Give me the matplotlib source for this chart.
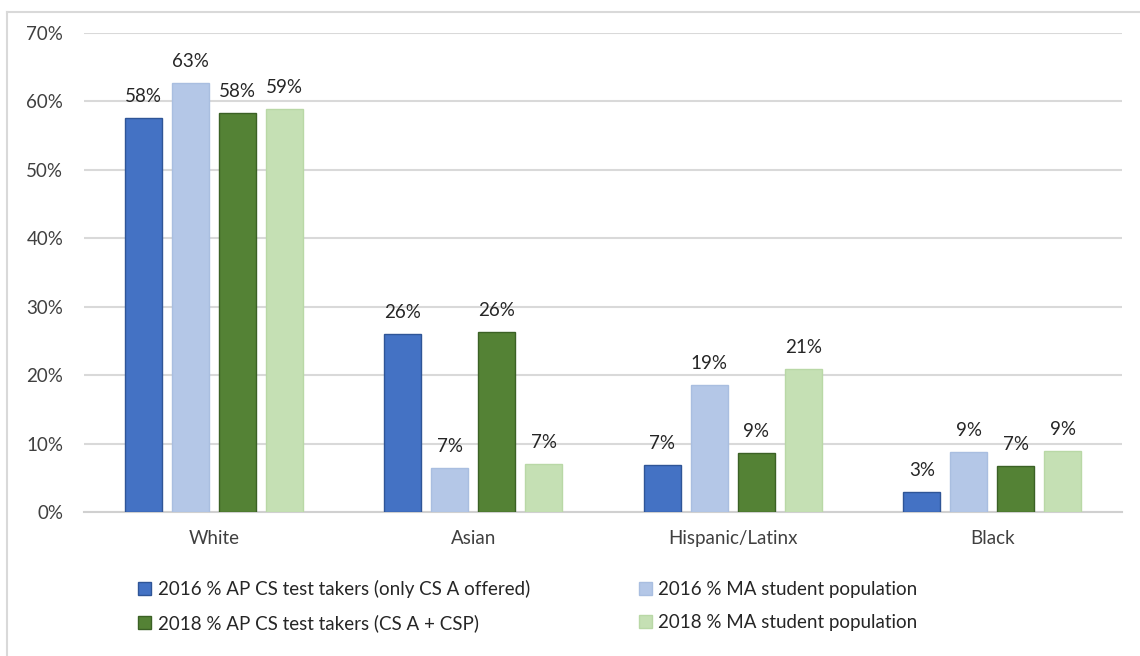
import numpy as np
import matplotlib
matplotlib.use("Agg")
import matplotlib.pyplot as plt
from matplotlib.lines import Line2D
from matplotlib.patches import Patch

plt.rcParams['font.family'] = ['Lato', 'DejaVu Sans']

categories = ["White", "Asian", "Hispanic/Latinx", "Black"]
series_names = ["2016 % AP CS test takers (only CS A offered)",
                "2016 % MA student population",
                "2018 % AP CS test takers (CS A + CSP)",
                "2018 % MA student population"]
ap2016 = [57.6, 26.0, 6.9, 2.9]
ma2016 = [62.7, 6.5, 18.6, 8.7]
ap2018 = [58.3, 26.3, 8.6, 6.7]
ma2018 = [58.9, 7.0, 20.9, 8.9]
labels2016ap = ["58%", "26%", "7%", "3%"]
labels2016ma = ["63%", "7%", "19%", "9%"]
labels2018ap = ["58%", "26%", "9%", "7%"]
labels2018ma = ["59%", "7%", "21%", "9%"]

colors = ["#4472C4", "#B4C7E7", "#548235", "#C5E0B4"]
edges = ["#2F5597", "#A9BEE0", "#3B6125", "#B9D8A6"]

fig = plt.figure(figsize=(11.4, 6.56), dpi=100)
ax = fig.add_axes([84/1140, 1-512/656, (1122-84)/1140, (512-33)/656])

x = np.arange(len(categories))
pitch = 0.181
width = 0.143
all_vals = [ap2016, ma2016, ap2018, ma2018]
all_labels = [labels2016ap, labels2016ma, labels2018ap, labels2018ma]
for i in range(4):
    pos = x + (i - 1.5) * pitch
    ax.bar(pos, all_vals[i], width, color=colors[i], edgecolor=edges[i],
           linewidth=1, zorder=3)
    for p, v, t in zip(pos, all_vals[i], all_labels[i]):
        ax.text(p, v + 1.9, t, ha='center', va='bottom', fontsize=13.5,
                color='#262626')

ax.set_xlim(-0.5, 3.5)
ax.set_ylim(0, 70)
ax.set_yticks(range(0, 71, 10))
ax.set_yticklabels([str(v) + "%" for v in range(0, 71, 10)])
ax.set_xticks(x)
ax.set_xticklabels(categories)
ax.tick_params(axis='both', length=0, labelsize=13.5, colors='#404040')
ax.tick_params(axis='x', pad=13)
ax.tick_params(axis='y', pad=15)
ax.grid(axis='y', color='#d9d9d9', linewidth=1.5, zorder=0)
for s in ['top', 'right', 'left']:
    ax.spines[s].set_visible(False)
ax.spines['bottom'].set_color('#d0d0d0')
ax.spines['bottom'].set_linewidth(1.5)

# chart area border (top and left visible)
fig.add_artist(Line2D([7/1140, 1], [1-12/656, 1-12/656], color='#d9d9d9',
                      linewidth=1.5, transform=fig.transFigure))
fig.add_artist(Line2D([7/1140, 7/1140], [0, 1-12/656], color='#d9d9d9',
                      linewidth=1.5, transform=fig.transFigure))

order = [0, 2, 1, 3]
handles = [Patch(facecolor=colors[i], edgecolor=edges[i]) for i in order]
names = [series_names[i] for i in order]
fig.legend(handles, names, loc='upper left',
           bbox_to_anchor=(121/1140, 1-563/656), ncol=2, frameon=False,
           fontsize=13.5, handlelength=0.7, handleheight=0.7,
           handletextpad=0.35, columnspacing=5.8, labelspacing=0.85,
           labelcolor='#262626')

fig.savefig("out.png", dpi=100)
